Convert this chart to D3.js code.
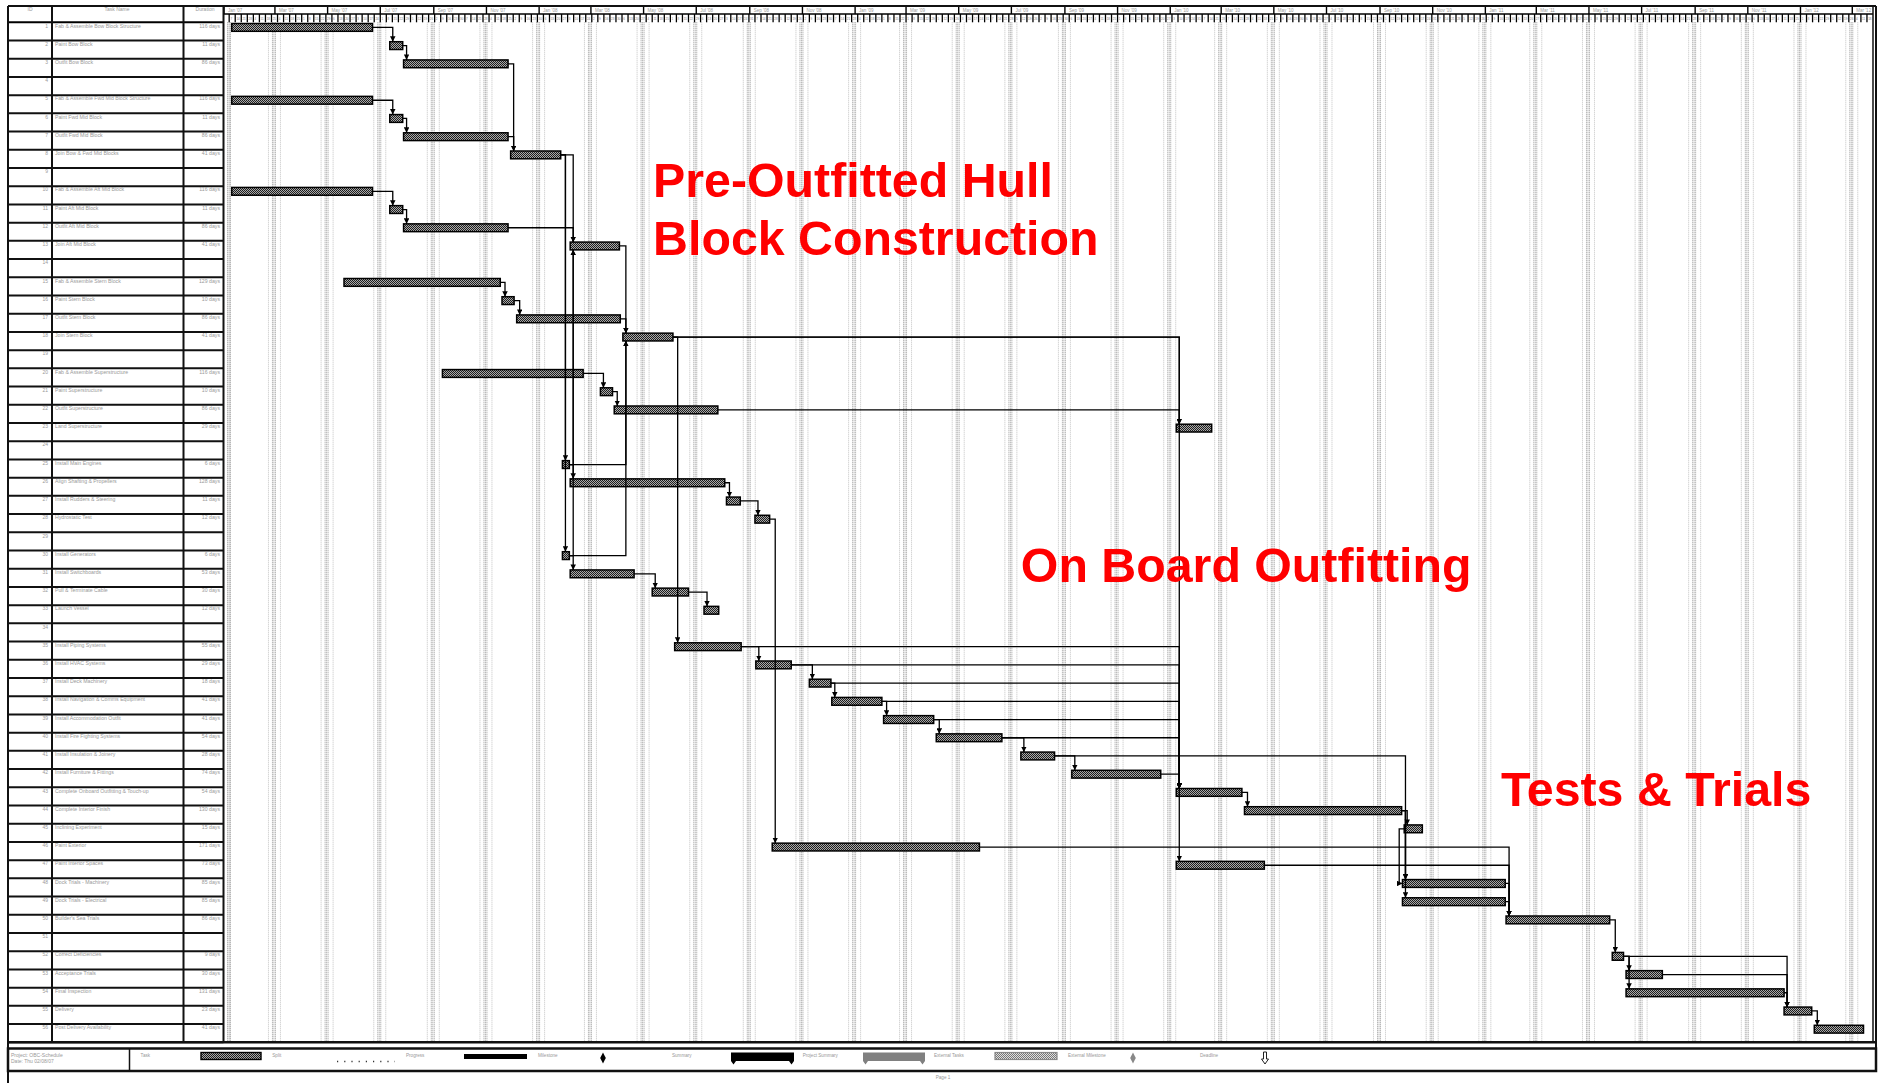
<!DOCTYPE html>
<html><head><meta charset="utf-8">
<script src="https://cdn.jsdelivr.net/npm/d3@7"></script>
<style>
body{margin:0;background:#fff}
svg{display:block}
text{font-family:"Liberation Sans",Arial,Helvetica,sans-serif}
</style>
</head><body>
<svg id="chart" width="1879" height="1083"></svg>
<script>
// ---------------- DATA ----------------
const taskNames = [
 "Fab & Assemble Bow Block Structure","Paint Bow Block","Outfit Bow Block","",
 "Fab & Assemble Fwd Mid Block Structure","Paint Fwd Mid Block","Outfit Fwd Mid Block","Join Bow & Fwd Mid Blocks","",
 "Fab & Assemble Aft Mid Block","Paint Aft Mid Block","Outfit Aft Mid Block","Join Aft Mid Block","",
 "Fab & Assemble Stern Block","Paint Stern Block","Outfit Stern Block","Join Stern Block","",
 "Fab & Assemble Superstructure","Paint Superstructure","Outfit Superstructure","Land Superstructure","",
 "Install Main Engines","Align Shafting & Propellers","Install Rudders & Steering","Hydrostatic Test","",
 "Install Generators","Install Switchboards","Pull & Terminate Cable","Launch Vessel","",
 "Install Piping Systems","Install HVAC Systems","Install Deck Machinery","Install Navigation & Comms Equipment",
 "Install Accommodation Outfit","Install Fire Fighting Systems","Install Insulation & Joinery","Install Furniture & Fittings",
 "Complete Onboard Outfitting & Touch-up","Complete Interior Finish","Inclining Experiment","Paint Exterior",
 "Paint Interior Spaces","Dock Trials - Machinery","Dock Trials - Electrical","Builder's Sea Trials","",
 "Correct Deficiencies","Acceptance Trials","Final Inspection","Delivery","Post Delivery Availability"
];
const taskDurations = [
 "116 days","11 days","86 days","",
 "116 days","11 days","86 days","41 days","",
 "116 days","11 days","86 days","41 days","",
 "129 days","10 days","86 days","41 days","",
 "116 days","10 days","86 days","29 days","",
 "6 days","128 days","11 days","12 days","",
 "6 days","53 days","30 days","12 days","",
 "55 days","29 days","18 days","41 days","41 days","54 days","28 days","74 days",
 "54 days","130 days","15 days","171 days","73 days","85 days","85 days","86 days","",
 "9 days","30 days","131 days","23 days","41 days"
];
// start (days after project start) and length (calendar days); null = blank row
const taskStartDay = [9,192,208,null,9,192,208,332,null,9,192,208,401,null,139,322,339,462,null,253,436,452,1103,null,392,401,582,615,null,392,401,496,556,null,522,616,678,704,764,825,923,982,1103,1182,1367,635,1103,1365,1365,1485,null,1608,1624,1624,1807,1842];
const taskLengthDays = [163,15,121,null,163,15,121,58,null,163,15,121,57,null,181,14,120,58,null,163,14,120,41,null,8,179,16,17,null,8,74,42,17,null,77,41,25,58,58,76,39,103,76,182,21,240,102,119,119,120,null,13,42,183,32,57];
// links: [predecessor row, successor row, type]
const links = [
 [0,1,"FS"],[1,2,"FS"],[2,7,"FS"],[4,5,"FS"],[5,6,"FS"],[6,7,"FS"],
 [9,10,"FS"],[10,11,"FS"],[11,12,"FS"],[7,12,"FS"],[7,24,"FS"],[7,29,"FS"],
 [24,25,"FS"],[29,30,"FS"],[24,12,"FS"],[29,12,"FS"],[24,17,"FS"],[29,17,"FS"],[12,17,"FS"],
 [14,15,"FS"],[15,16,"FS"],[16,17,"FS"],[19,20,"FS"],[20,21,"FS"],
 [17,22,"FS"],[21,22,"FS"],[17,34,"FS"],[17,46,"FS"],
 [25,26,"FS"],[26,27,"FS"],[27,45,"FS"],[30,31,"FS"],[31,32,"FS"],
 [34,35,"FS"],[35,36,"FS"],[36,37,"FS"],[37,38,"FS"],[38,39,"FS"],[39,40,"FS"],[40,41,"FS"],
 [34,42,"FS"],[35,42,"FS"],[36,42,"FS"],[37,42,"FS"],[38,42,"FS"],[39,42,"FS"],[41,42,"FS"],
 [40,47,"FS"],[42,43,"FS"],[43,44,"FS"],[43,47,"FS"],[43,48,"FS"],[44,47,"SS"],
 [45,49,"FS"],[46,49,"FS"],[47,49,"FS"],[48,49,"FS"],
 [49,51,"FS"],[51,52,"FS"],[51,53,"FS"],[51,54,"FS"],[52,54,"FS"],[53,54,"FS"],[54,55,"FS"]
];
const upperTierLabels = ["Jan '07","Mar '07","May '07","Jul '07","Sep '07","Nov '07","Jan '08","Mar '08","May '08","Jul '08","Sep '08","Nov '08",
 "Jan '09","Mar '09","May '09","Jul '09","Sep '09","Nov '09","Jan '10","Mar '10","May '10","Jul '10","Sep '10","Nov '10",
 "Jan '11","Mar '11","May '11","Jul '11","Sep '11","Nov '11","Jan '12","Mar '12"];
const tableHeaders = ["ID","Task Name","Duration"];
const phaseLabels = [
 {lines:["Pre-Outfitted Hull","Block Construction"], day:497, row:9.59},
 {lines:["On Board Outfitting"], day:923, row:30.74},
 {lines:["Tests & Trials"], day:1479, row:43.04}
];
const legendItems = ["Task","Split","Progress","Milestone","Summary","Project Summary","External Tasks","External Milestone","Deadline"];
const footerLines = ["Project: OBC-Schedule","Date: Thu 02/08/07"];
const pageLabel = "Page 1";

// ---------------- LAYOUT ----------------
const svg = d3.select("#chart");
const nRows = taskNames.length;
const L = {frameL:8, frameR:1874, top:6, hdrMid:14, hdrBot:22.3, bodyBot:1042.3,
  colId:52, colName:183.5, colDur:223.5, ganttL:224, ganttR:1873};
const projectStart = new Date(2007,0,1);
const x = d3.scaleTime()
  .domain([projectStart, d3.timeDay.offset(projectStart,1910)])
  .range([L.ganttL, L.ganttR]);
const y = d3.scaleLinear().domain([0,nRows]).range([L.hdrBot, L.bodyBot]);
const barTop = i => y(i)+1.2, barH = 7.8, barMid = i => y(i)+5.1;

const defs = svg.append("defs");
const pat = defs.append("pattern").attr("id","checker").attr("width",2).attr("height",2).attr("patternUnits","userSpaceOnUse");
pat.append("rect").attr("width",2).attr("height",2).attr("fill","#a9a9a9");
pat.append("rect").attr("width",1).attr("height",1).attr("fill","#1e1e1e");
pat.append("rect").attr("x",1).attr("y",1).attr("width",1).attr("height",1).attr("fill","#1e1e1e");
const pat2 = defs.append("pattern").attr("id","checkerLight").attr("width",2).attr("height",2).attr("patternUnits","userSpaceOnUse");
pat2.append("rect").attr("width",2).attr("height",2).attr("fill","#e0e0e0");
pat2.append("rect").attr("width",1).attr("height",1).attr("fill","#777");
pat2.append("rect").attr("x",1).attr("y",1).attr("width",1).attr("height",1).attr("fill","#777");
defs.append("marker").attr("id","arr").attr("viewBox","0 0 6 6").attr("refX",6).attr("refY",3)
  .attr("markerWidth",5.5).attr("markerHeight",5.5).attr("markerUnits","userSpaceOnUse").attr("orient","auto")
  .append("path").attr("d","M0,0 L6,3 L0,6 z").attr("fill","#000");

// ---------------- GANTT BACKGROUND GRID ----------------
const upperTicks = d3.timeMonth.every(2).range(projectStart, x.domain()[1]);
const grid = svg.append("g");
upperTicks.forEach(d=>{
  const gx = x(d);
  [[-2.5,"#9a9a9a"],[-1,"#9a9a9a"],[0.5,"#9a9a9a"],[-6.5,"#c2c2c2"],[5.5,"#c2c2c2"]].forEach(([o,c])=>{
    let xx = gx + o; if (xx < L.ganttL+2) xx += 6;
    grid.append("line").attr("x1",xx).attr("x2",xx).attr("y1",L.hdrBot).attr("y2",L.bodyBot)
      .attr("stroke",c).attr("stroke-width",1).attr("stroke-dasharray","1,1");
  });
});

// ---------------- TIMESCALE HEADER ----------------
const hdr = svg.append("g");
hdr.append("line").attr("x1",L.ganttL).attr("x2",L.ganttR).attr("y1",L.hdrMid).attr("y2",L.hdrMid).attr("stroke","#000").attr("stroke-width",1.5);
upperTicks.forEach((d,i)=>{
  const gx = x(d);
  hdr.append("line").attr("x1",gx).attr("x2",gx).attr("y1",L.top).attr("y2",L.hdrMid).attr("stroke","#000").attr("stroke-width",1.4);
  hdr.append("text").attr("x",gx+4).attr("y",11.5).attr("font-size",4.5).attr("fill","#999").text(upperTierLabels[i]);
});
const weekTicks = d3.timeWeek.range(projectStart, x.domain()[1]);
weekTicks.forEach(d=>{
  const gx = x(d);
  hdr.append("line").attr("x1",gx).attr("x2",gx).attr("y1",L.hdrMid).attr("y2",L.hdrBot).attr("stroke","#000").attr("stroke-width",1.3);
  hdr.append("text").attr("x",gx+1.2).attr("y",19.5).attr("font-size",3).attr("fill","#777").text(d3.timeFormat("%-d")(d));
});

// ---------------- TABLE ----------------
const tbl = svg.append("g");
tbl.append("line").attr("x1",L.frameL).attr("x2",L.colDur).attr("y1",L.hdrBot).attr("y2",L.hdrBot).attr("stroke","#000").attr("stroke-width",2);
taskNames.forEach((n,i)=>{
  tbl.append("line").attr("x1",L.frameL).attr("x2",L.colDur).attr("y1",y(i+1)).attr("y2",y(i+1)).attr("stroke","#111").attr("stroke-width",2);
  tbl.append("text").attr("x",48).attr("y",y(i)+5.2).attr("text-anchor","end").attr("font-size",5).attr("fill","#9a9a9a").text(i+1);
  if(n) tbl.append("text").attr("x",55).attr("y",y(i)+5.2).attr("font-size",5.2).attr("fill","#9a9a9a").text(n);
  if(taskDurations[i]) tbl.append("text").attr("x",220).attr("y",y(i)+5.2).attr("text-anchor","end").attr("font-size",5.2).attr("fill","#9a9a9a").text(taskDurations[i]);
});
[L.colId, L.colName, L.colDur].forEach(cx=>{
  tbl.append("line").attr("x1",cx).attr("x2",cx).attr("y1",L.top).attr("y2",L.bodyBot).attr("stroke","#111").attr("stroke-width",2);
});
[[30,"middle"],[117,"middle"],[205,"middle"]].forEach(([hx,a],i)=>{
  tbl.append("text").attr("x",hx).attr("y",10.5).attr("text-anchor",a).attr("font-size",5).attr("fill","#999").text(tableHeaders[i]);
});

// ---------------- BARS ----------------
const tasks = taskStartDay.map((s,i)=> s==null?null:{i, s:d3.timeDay.offset(projectStart,s), e:d3.timeDay.offset(projectStart,s+taskLengthDays[i])}).filter(Boolean);
const taskByRow = {}; tasks.forEach(t=>taskByRow[t.i]=t);
svg.append("g").selectAll("rect").data(tasks).join("rect")
  .attr("x",t=>x(t.s)).attr("y",t=>barTop(t.i)).attr("width",t=>x(t.e)-x(t.s)).attr("height",barH)
  .attr("fill","url(#checker)").attr("stroke","#000").attr("stroke-width",1.5);

// ---------------- LINKS ----------------
const lg = svg.append("g").attr("fill","none").attr("stroke","#000").attr("stroke-width",1.3);
links.forEach(([p,s,type])=>{
  const P = taskByRow[p], S = taskByRow[s];
  let d;
  if (type==="SS") {
    const xp = x(P.s), xs = x(S.s);
    d = `M${xp},${barMid(p)} H${xp-5} V${barMid(s)} H${xs}`;
  } else {
    const x1 = x(P.e), xs = x(S.s), y1 = barMid(p);
    if (xs >= x1 - 1) {
      const tx = Math.max(xs, x1) + 3;
      const ty = s > p ? barTop(s) : barTop(s)+barH;
      d = `M${x1},${y1} H${tx} V${ty}`;
    } else {
      d = `M${x1},${y1} H${x1+4} V${y(s)-1} H${xs-5} V${barMid(s)} H${xs}`;
    }
  }
  lg.append("path").attr("d",d).attr("marker-end","url(#arr)");
});

// ---------------- FRAME ----------------
const fr = svg.append("g").attr("stroke","#111").attr("fill","none");
fr.append("line").attr("x1",L.frameL).attr("x2",L.frameR+2).attr("y1",L.top).attr("y2",L.top).attr("stroke-width",2);
fr.append("line").attr("x1",L.frameL).attr("x2",L.frameL).attr("y1",L.top).attr("y2",1083).attr("stroke-width",2);
fr.append("line").attr("x1",L.ganttR).attr("x2",L.ganttR).attr("y1",L.top).attr("y2",L.bodyBot).attr("stroke-width",1.5);
fr.append("line").attr("x1",L.frameR+2).attr("x2",L.frameR+2).attr("y1",L.top).attr("y2",1072).attr("stroke-width",2);
fr.append("line").attr("x1",L.frameL).attr("x2",L.frameR+2).attr("y1",L.bodyBot).attr("y2",L.bodyBot).attr("stroke-width",2.5);
fr.append("rect").attr("x",L.frameL).attr("y",1048.5).attr("width",L.frameR+2-L.frameL).attr("height",22.5).attr("stroke-width",2.5);
fr.append("line").attr("x1",129.5).attr("x2",129.5).attr("y1",1048.5).attr("y2",1071).attr("stroke-width",1.5);

// ---------------- PHASE ANNOTATIONS ----------------
phaseLabels.forEach(p=>{
  p.lines.forEach((t,k)=>{
    svg.append("text").attr("x",x(d3.timeDay.offset(projectStart,p.day))).attr("y",y(p.row)+k*58)
      .attr("font-size",48.3).attr("font-weight","bold").attr("fill","#ff0000").text(t);
  });
});

// ---------------- LEGEND ----------------
const leg = svg.append("g");
footerLines.forEach((t,k)=> leg.append("text").attr("x",11).attr("y",1057+k*5.5).attr("font-size",5).attr("fill","#999").text(t));
const labX = [140.6,272.3,406,538,672,802.7,934,1068,1200];
legendItems.forEach((t,k)=> leg.append("text").attr("x",labX[k]).attr("y",1057).attr("font-size",4.6).attr("fill","#999").text(t));
leg.append("rect").attr("x",201).attr("y",1052.5).attr("width",60).attr("height",7).attr("fill","url(#checker)").attr("stroke","#000").attr("stroke-width",1.4);
leg.append("line").attr("x1",337).attr("x2",395).attr("y1",1061.5).attr("y2",1061.5).attr("stroke","#333").attr("stroke-width",1.4).attr("stroke-dasharray","1.2,6");
leg.append("rect").attr("x",464).attr("y",1054).attr("width",63).attr("height",5).attr("fill","#000");
leg.append("path").attr("d","M603,1052.5 L605.8,1058 L603,1063.5 L600.2,1058 Z").attr("fill","#000");
const sumShape = (x0,x1,c)=> leg.append("path").attr("d",`M${x0},1052.5 H${x1} V1061 L${x1-2.5},1064.5 L${x1-5},1061 H${x0+5} L${x0+2.5},1064.5 L${x0},1061 Z`).attr("fill",c);
sumShape(731,794,"#000"); sumShape(863,925,"#808080");
leg.append("rect").attr("x",995).attr("y",1052.5).attr("width",62).attr("height",7).attr("fill","url(#checkerLight)").attr("stroke","#888").attr("stroke-width",1.2);
leg.append("path").attr("d","M1133,1052.5 L1135.8,1058 L1133,1063.5 L1130.2,1058 Z").attr("fill","#888");
leg.append("path").attr("d","M1263.5,1052 H1266.5 V1059 H1268.5 L1265,1064 L1261.5,1059 H1263.5 Z").attr("fill","none").attr("stroke","#222").attr("stroke-width",1);
leg.append("text").attr("x",943).attr("y",1078.5).attr("text-anchor","middle").attr("font-size",4.6).attr("fill","#999").text(pageLabel);
</script>
</body></html>
